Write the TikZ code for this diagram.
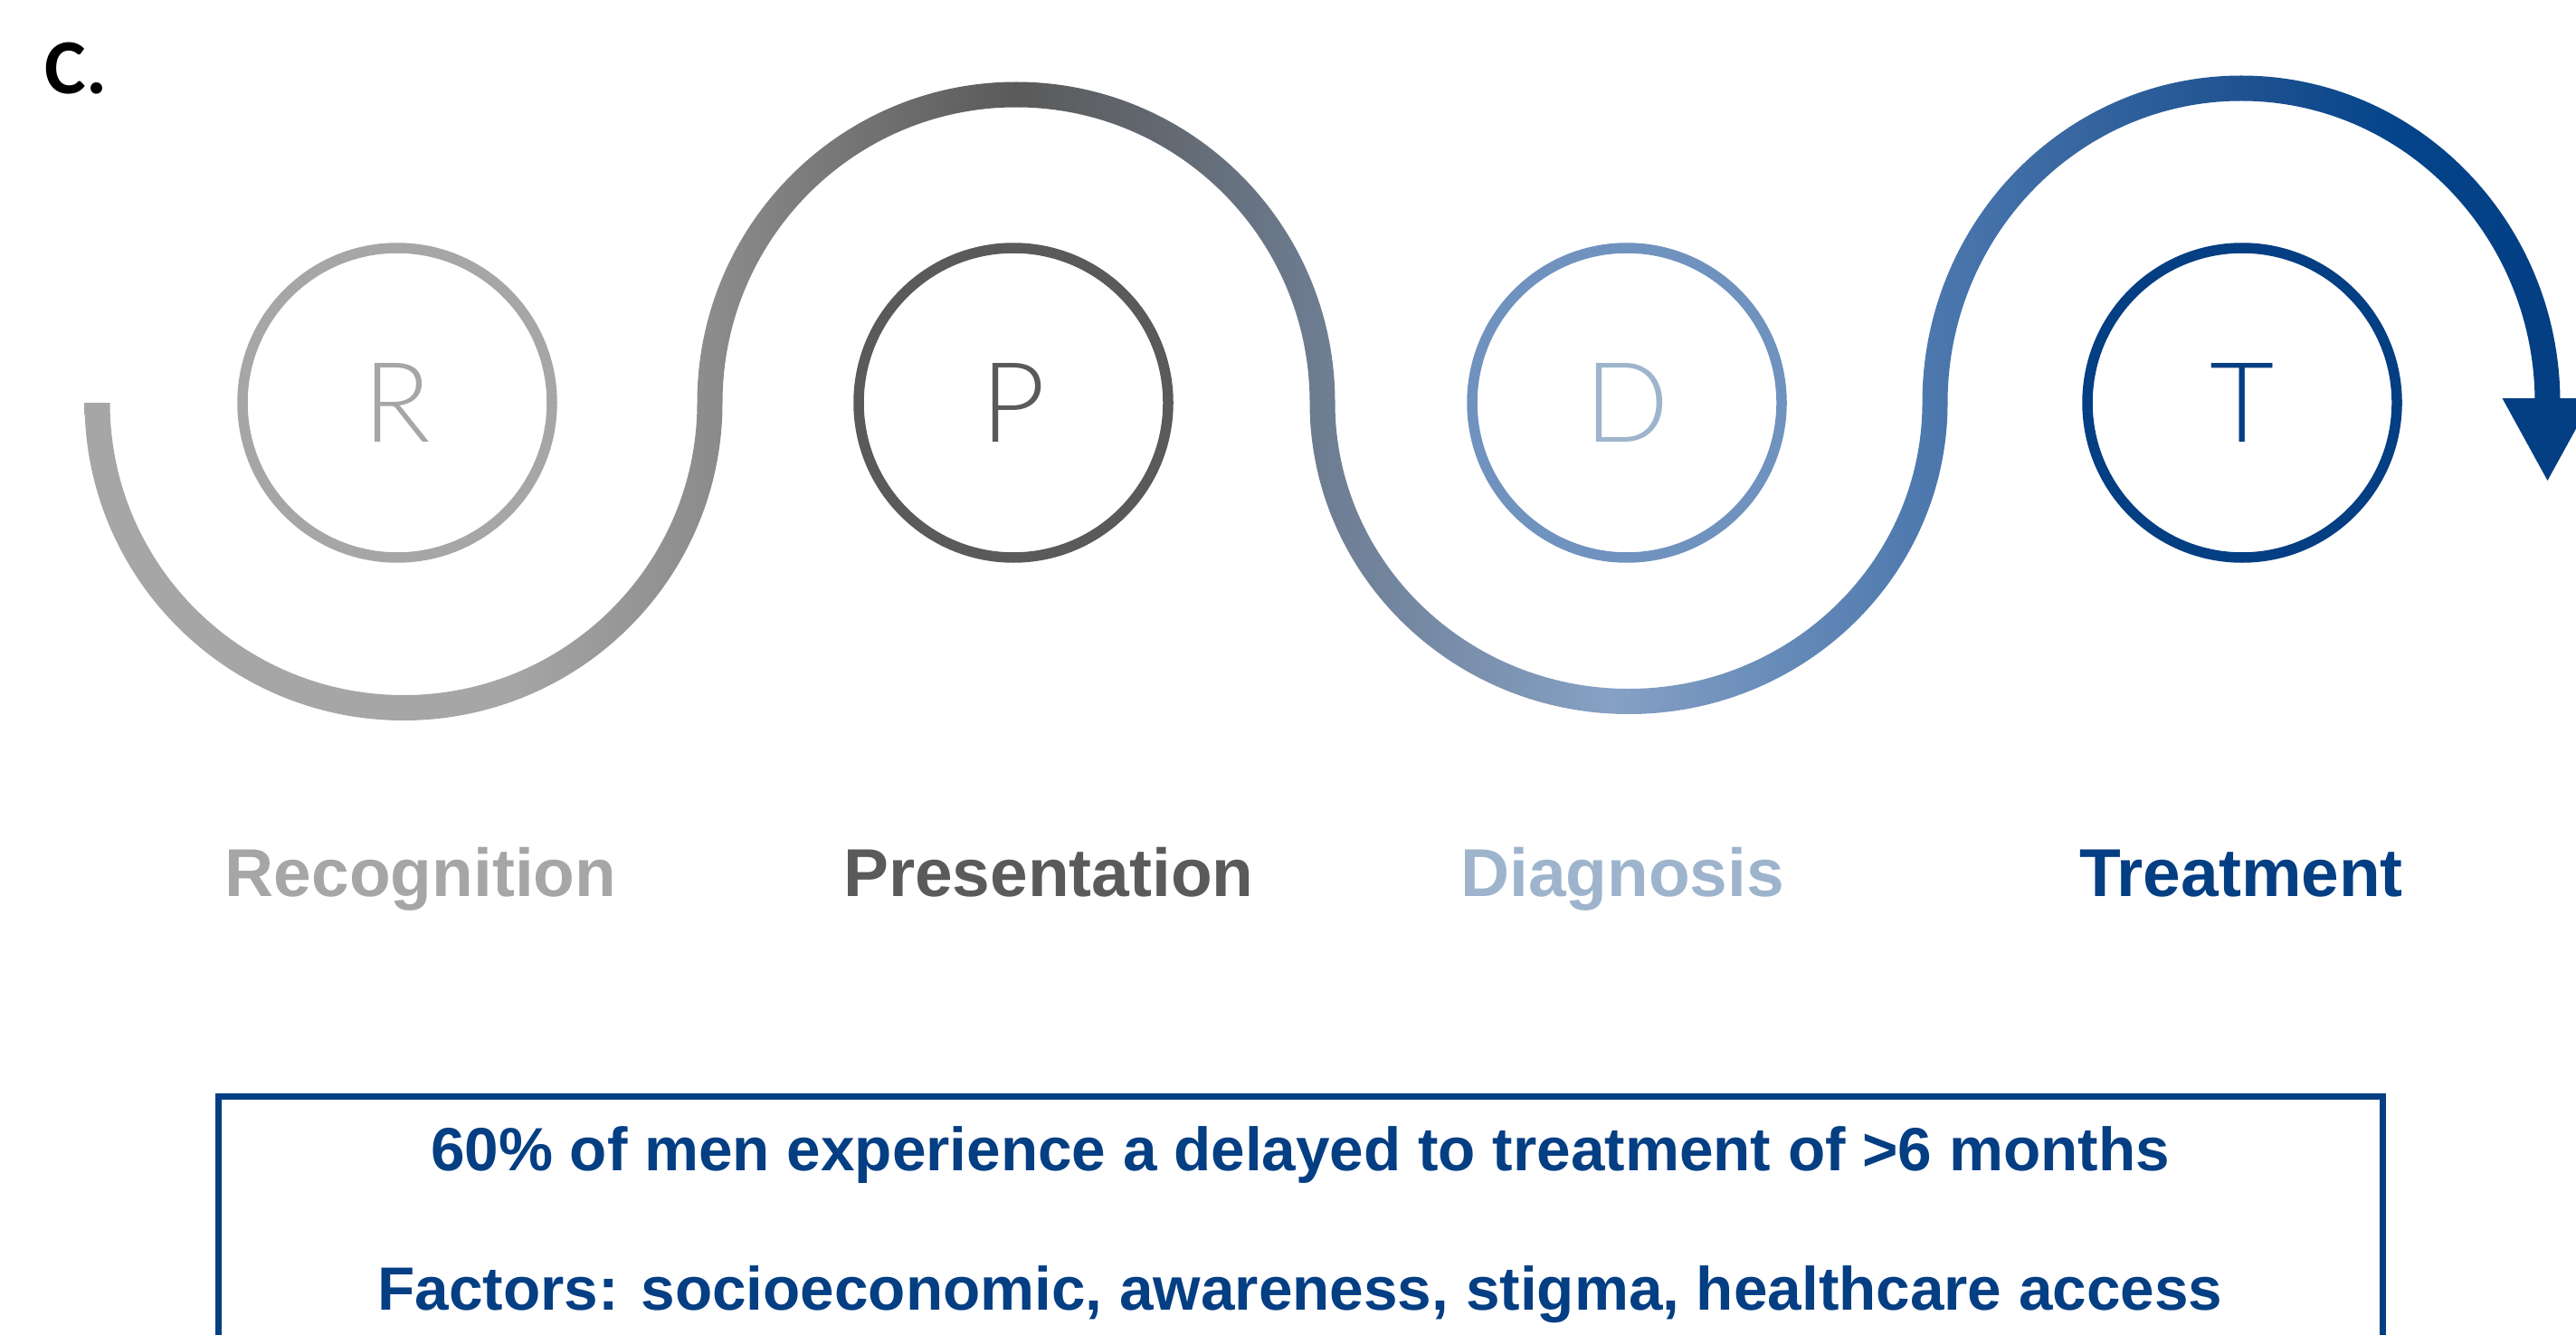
\documentclass[tikz,border=0pt]{standalone}
\usepackage{fontspec}
\setmainfont{Liberation Sans}
\newfontfamily\thinfont{Lato Light}
\newfontfamily\panelfont{Carlito}[BoldFont={Carlito Bold}]
\usetikzlibrary{calc}

\definecolor{greyA}{RGB}{166,166,166}
\definecolor{greyM}{RGB}{140,140,140}
\definecolor{greyB}{RGB}{90,90,90}
\definecolor{slate}{RGB}{99,106,115}
\definecolor{steel}{RGB}{109,125,146}
\definecolor{blueL}{RGB}{134,161,197}
\definecolor{blueM}{RGB}{75,119,173}
\definecolor{blueD}{RGB}{31,82,145}
\definecolor{navy}{RGB}{4,62,131}
\definecolor{navyE}{RGB}{4,68,138}
\definecolor{ringD}{RGB}{112,146,191}
\definecolor{textD}{RGB}{157,180,204}

\pgfdeclarehorizontalshading{wavegrad}{100bp}{color(0bp)=(greyA); color(25bp)=(greyA);
  color(33.5bp)=(greyA); color(37.6bp)=(greyM); color(43.8bp)=(greyB);
  color(47bp)=(slate); color(50bp)=(steel); color(55.8bp)=(blueL);
  color(62.4bp)=(blueM); color(68.6bp)=(blueD); color(71.7bp)=(navyE);
  color(75bp)=(navy); color(100bp)=(navy)}

\tikzset{stage/.style={draw,circle,line width=0.115cm,minimum size=3.42cm,inner sep=0pt,
    font=\thinfont\fontsize{35}{35}\selectfont}}
\tikzset{stagename/.style={anchor=base,inner sep=0pt,font=\bfseries\fontsize{21.3}{21.3}\selectfont}}
\tikzset{factline/.style={anchor=base,inner sep=0pt,text=navy,font=\bfseries\fontsize{19.2}{19.2}\selectfont}}

\begin{document}
\begin{tikzpicture}
    \useasboundingbox (0,0) rectangle (28.47,14.74);
    \clip (0,0) rectangle (28.47,14.74);
    \def\h{0.14}
    \def\yy{10.29}
    % the wave, as a band between two offset curves
    \shade [shading=wavegrad] ({1.075-\h},\yy)
        arc [start angle=180,end angle=360,x radius={3.385+\h},y radius={3.37+\h}]
        arc [start angle=180,end angle=0,x radius={3.385-\h},y radius={3.405-\h}]
        arc [start angle=180,end angle=360,x radius={3.385+\h},y radius={3.30+\h}]
        arc [start angle=180,end angle=0,x radius={3.385-\h},y radius={3.475-\h}]
        -- ++({2*\h},0)
        arc [start angle=0,end angle=180,x radius={3.385+\h},y radius={3.475+\h}]
        arc [start angle=360,end angle=180,x radius={3.385-\h},y radius={3.30-\h}]
        arc [start angle=0,end angle=180,x radius={3.385+\h},y radius={3.405+\h}]
        arc [start angle=360,end angle=180,x radius={3.385-\h},y radius={3.37-\h}]
        -- cycle;
    \fill [navy] (27.655,10.34) -- (28.655,10.34) -- (28.155,9.43) -- cycle;

    \node [stage,draw=greyA,text=greyA] (R) at (4.39,\yy) {R};
    \node [stage,draw=greyB,text=greyB] (P) at (11.20,\yy) {P};
    \node [stage,draw=ringD,text=textD] (D) at (17.98,\yy) {D};
    \node [stage,draw=navy,text=navy] (T) at (24.78,\yy) {T};

    \node [stagename,text=greyA] (recognition) at (4.65,4.84) {Recognition};
    \node [stagename,text=greyB] (presentation) at (11.59,4.84) {Presentation};
    \node [stagename,text=textD] (diagnosis) at (17.93,4.84) {Diagnosis};
    \node [stagename,text=navy] (treatment) at (24.77,4.84) {Treatment};

    \draw [navy,line width=0.07cm] (2.41,2.63) rectangle (26.33,-0.5);
    \node [factline] (delay) at (14.37,1.81) {60\% of men experience a delayed to treatment of >6 months};
    \node [factline] (factors) at (14.37,0.27) {Factors: socioeconomic, awareness, stigma, healthcare access};

    \node [anchor=base west,inner sep=0pt,font=\panelfont\bfseries\fontsize{24.5}{24.5}\selectfont] (panel) at (0.49,13.70) {C.};
\end{tikzpicture}
\end{document}
